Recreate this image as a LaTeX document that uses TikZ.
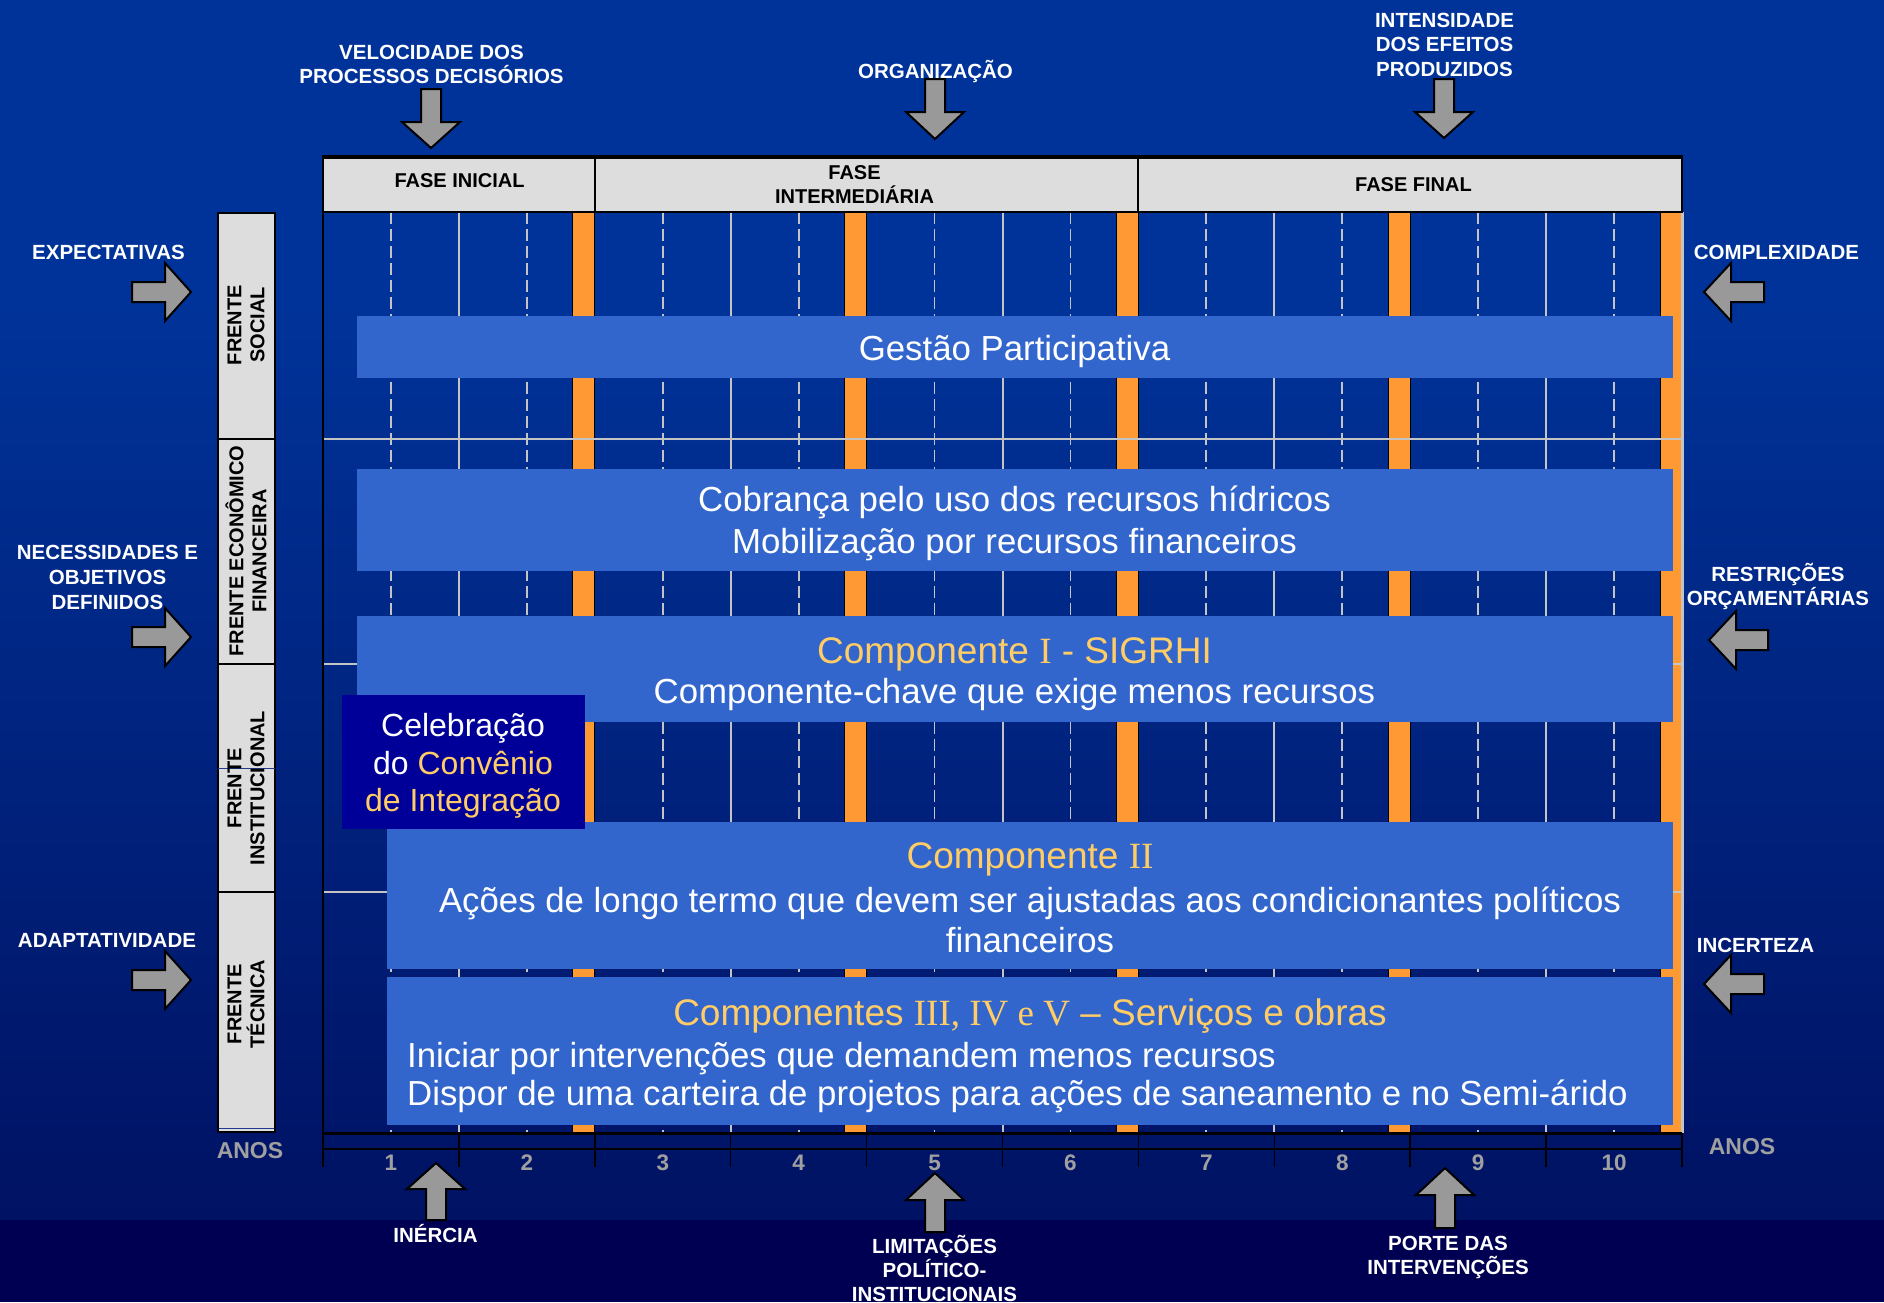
\documentclass[tikz,border=0pt]{standalone}
\usepackage{fontspec}
\setmainfont{Liberation Sans}
\newfontfamily\tms{Liberation Serif}
\definecolor{bgtop}{HTML}{003399}
\definecolor{bgbot}{HTML}{001263}
\definecolor{bgband}{HTML}{000052}
\definecolor{boxblue}{HTML}{3366CC}
\definecolor{navybox}{HTML}{000099}
\definecolor{gold}{HTML}{FFCC66}
\definecolor{orng}{HTML}{FF9933}
\definecolor{hdr}{HTML}{DDDDDD}
\definecolor{gridgray}{HTML}{C4C4C4}
\definecolor{arrgray}{HTML}{999999}
\definecolor{axisgray}{HTML}{A0A0A0}
\definecolor{artline}{HTML}{1F3A8F}
\tikzset{
  lbl/.style={text=white, font=\fontsize{20.5}{24}\selectfont\bfseries, anchor=base, inner sep=0},
  hdrtxt/.style={text=black, font=\fontsize{20}{24}\selectfont\bfseries, anchor=base, inner sep=0},
  boxtxt/.style={text=white, font=\fontsize{34.8}{40}\selectfont, anchor=base, inner sep=0},
  titletxt/.style={text=gold, font=\fontsize{37}{42}\selectfont, anchor=base, inner sep=0},
  celtxt/.style={text=white, font=\fontsize{32}{38}\selectfont, anchor=base, inner sep=0},
  yeartxt/.style={text=axisgray, font=\fontsize{22.5}{26}\selectfont\bfseries, anchor=base, inner sep=0},
  anostxt/.style={text=axisgray, font=\fontsize{23}{28}\selectfont\bfseries, anchor=base, inner sep=0},
  frentetxt/.style={text=black, font=\fontsize{20}{23}\selectfont\bfseries, rotate=90, align=center, inner sep=0},
  blockarrow/.style={fill=arrgray, draw=black, line width=2pt, line join=miter},
  frentebox/.style={fill=hdr, draw=black, line width=2pt},
  hdrbox/.style={fill=hdr, draw=black, line width=2pt},
  dashline/.style={draw=gridgray, line width=1.8pt, dash pattern=on 12pt off 5pt},
  solidline/.style={draw=gridgray, line width=2pt},
  orangebar/.style={fill=orng, draw=black, line width=0.8pt},
  bluebar/.style={fill=boxblue},
}
\newcommand{\blkV}[4]{\draw[blockarrow] (#1,#2) -- (#1-29,#3) -- (#1-10,#3) -- (#1-10,#4) -- (#1+10,#4) -- (#1+10,#3) -- (#1+29,#3) -- cycle;}
\newcommand{\blkH}[4]{\draw[blockarrow] (#2,#1) -- (#3,#1-29) -- (#3,#1-10) -- (#4,#1-10) -- (#4,#1+10) -- (#3,#1+10) -- (#3,#1+29) -- cycle;}
\begin{document}
\begin{tikzpicture}[x=1pt,y=-1pt]
\useasboundingbox (0,0) rectangle (1884,1302);
% background
\fill[bgtop] (0,0) rectangle (1884,300);
\shade[top color=bgtop, bottom color=bgbot] (0,299) rectangle (1884,1221);
\fill[bgband] (0,1220) rectangle (1884,1302);
% frente boxes
\foreach \a/\b in {213/438.5, 438.5/664, 664/891.5, 891.5/1132}
  \draw[frentebox] (217.5,\a) rectangle (275,\b);
\draw[artline, line width=1pt] (217.5,768) -- (275,768);
\draw[artline, line width=1pt] (218.5,1128) -- (274,1128);
% grid verticals
\foreach \k in {0,...,9}
  \draw[dashline] ({323+(\k+0.5)*135.9},211.5) -- ({323+(\k+0.5)*135.9},1133);
\foreach \k in {1,3,5,7,9}
  \draw[solidline] ({323+\k*135.9},211.5) -- ({323+\k*135.9},1133);
\foreach \k in {2,4,6,8,10}
  \draw[orangebar] ({323+\k*135.9-22},211.5) rectangle ({323+\k*135.9},1133);
\foreach \y in {438.5,664,891.5}
  \draw[solidline] (323,\y) -- (1682,\y);
% frame
\draw[gridgray, line width=3pt] (1682,211.5) -- (1682,1133);
\draw[black, line width=2pt] (323,211.5) -- (323,1167);
\draw[black, line width=3pt] (323,1133) -- (1682,1133);
\draw[black, line width=1.8pt] (323,1149) -- (1682,1149);
\foreach \k in {1,...,10}
  \draw[black, line width=1.5pt] ({323+\k*135.9},1133) -- ({323+\k*135.9},1167);
% header
\draw[hdrbox] (323,157) rectangle (594.8,211.5);
\draw[hdrbox] (594.8,157) rectangle (1138.4,211.5);
\draw[hdrbox] (1138.4,157) rectangle (1682,211.5);
\draw[black, line width=3.5pt] (322,157) -- (1683,157);
% blue boxes
\fill[bluebar] (357,316) rectangle (1672.5,377.5);
\fill[bluebar] (357,468.5) rectangle (1672.5,571);
\fill[bluebar] (357,616) rectangle (1672.5,722);
\fill[bluebar] (387,822) rectangle (1672.5,968.5);
\fill[bluebar] (387,977) rectangle (1672.5,1125);
\fill[navybox] (342,694.5) rectangle (585,829);
% box texts
\node[boxtxt] (gp) at (1014.5,360) {Gestão Participativa};
\node[boxtxt] (cob1) at (1014.5,511) {Cobrança pelo uso dos recursos hídricos};
\node[boxtxt] (cob2) at (1014.5,553) {Mobilização por recursos financeiros};
\node[titletxt] (c1a) at (1014.5,663) {Componente {\tms I} - SIGRHI};
\node[boxtxt] (c1b) at (1014.5,703) {Componente-chave que exige menos recursos};
\node[titletxt] (c2a) at (1030,868) {Componente {\tms II}};
\node[boxtxt] (c2b) at (1030,912) {Ações de longo termo que devem ser ajustadas aos condicionantes políticos};
\node[boxtxt] (c2c) at (1030,952) {financeiros};
\node[titletxt] (c3a) at (1030,1025) {Componentes {\tms III, IV e V} – Serviços e obras};
\node[boxtxt, anchor=base west] (c3b) at (407,1067) {Iniciar por intervenções que demandem menos recursos};
\node[boxtxt, anchor=base west] (c3c) at (407,1105.5) {Dispor de uma carteira de projetos para ações de saneamento e no Semi-árido};
\node[celtxt] (ce1) at (463,736.5) {Celebração};
\node[celtxt] (ce2) at (463,774.5) {do \textcolor{gold}{Convênio}};
\node[celtxt, text=gold] (ce3) at (463,811.5) {de Integração};
% header texts
\node[hdrtxt] (f1) at (459.5,187) {FASE INICIAL};
\node[hdrtxt] (f2a) at (854.5,179.5) {FASE};
\node[hdrtxt] (f2b) at (854.5,203) {INTERMEDIÁRIA};
\node[hdrtxt] (f3) at (1413.5,191) {FASE FINAL};
% frente texts
\node[frentetxt] (fs) at (246,325) {FRENTE\\SOCIAL};
\node[frentetxt] (fe) at (246,551) {FRENTE ECONÔMICO\\FINANCEIRA};
\node[frentetxt] (fi) at (246,788) {FRENTE\\INSTITUCIONAL};
\node[frentetxt] (ft) at (246,1004) {FRENTE\\TÉCNICA};
% axis
\foreach \k in {1,...,10}
  \node[yeartxt] (y\k) at ({323+(\k-0.5)*135.9},1170) {\k};
\node[anostxt] (anosL) at (250,1158) {ANOS};
\node[anostxt] (anosR) at (1742,1154) {ANOS};
% labels
\node[lbl] (vel1) at (431.5,59.5) {VELOCIDADE DOS};
\node[lbl] (vel2) at (431.5,83.5) {PROCESSOS DECISÓRIOS};
\node[lbl] (org) at (935.5,78) {ORGANIZAÇÃO};
\node[lbl] (int1) at (1444.5,27.5) {INTENSIDADE};
\node[lbl] (int2) at (1444.5,51.5) {DOS EFEITOS};
\node[lbl] (int3) at (1444.5,76) {PRODUZIDOS};
\node[lbl] (exp) at (108.5,259.5) {EXPECTATIVAS};
\node[lbl] (nec1) at (107.5,559) {NECESSIDADES E};
\node[lbl] (nec2) at (107.5,584) {OBJETIVOS};
\node[lbl] (nec3) at (107.5,609) {DEFINIDOS};
\node[lbl] (ada) at (107,947.5) {ADAPTATIVIDADE};
\node[lbl] (cpx) at (1776.5,259.5) {COMPLEXIDADE};
\node[lbl] (res1) at (1778,581.5) {RESTRIÇÕES};
\node[lbl] (res2) at (1778,605.5) {ORÇAMENTÁRIAS};
\node[lbl] (inc) at (1755.5,952) {INCERTEZA};
\node[lbl] (ine) at (435.5,1242) {INÉRCIA};
\node[lbl] (lim1) at (934.5,1253) {LIMITAÇÕES};
\node[lbl] (lim2) at (934.5,1277) {POLÍTICO-};
\node[lbl] (lim3) at (934.5,1301) {INSTITUCIONAIS};
\node[lbl] (por1) at (1448,1250) {PORTE DAS};
\node[lbl] (por2) at (1448,1274) {INTERVENÇÕES};
% block arrows
\blkV{431}{148}{122}{89}
\blkV{935}{139}{112}{79}
\blkV{1444}{138}{112}{79}
\blkV{436}{1163}{1189}{1220}
\blkV{935}{1173}{1200}{1232}
\blkV{1445}{1168}{1195}{1228}
\blkH{292}{191}{165}{132}
\blkH{637}{191}{165}{132}
\blkH{980}{191}{165}{132}
\blkH{292}{1704}{1731}{1764}
\blkH{640}{1709}{1736}{1768}
\blkH{984}{1704}{1731}{1764}
\end{tikzpicture}
\end{document}
